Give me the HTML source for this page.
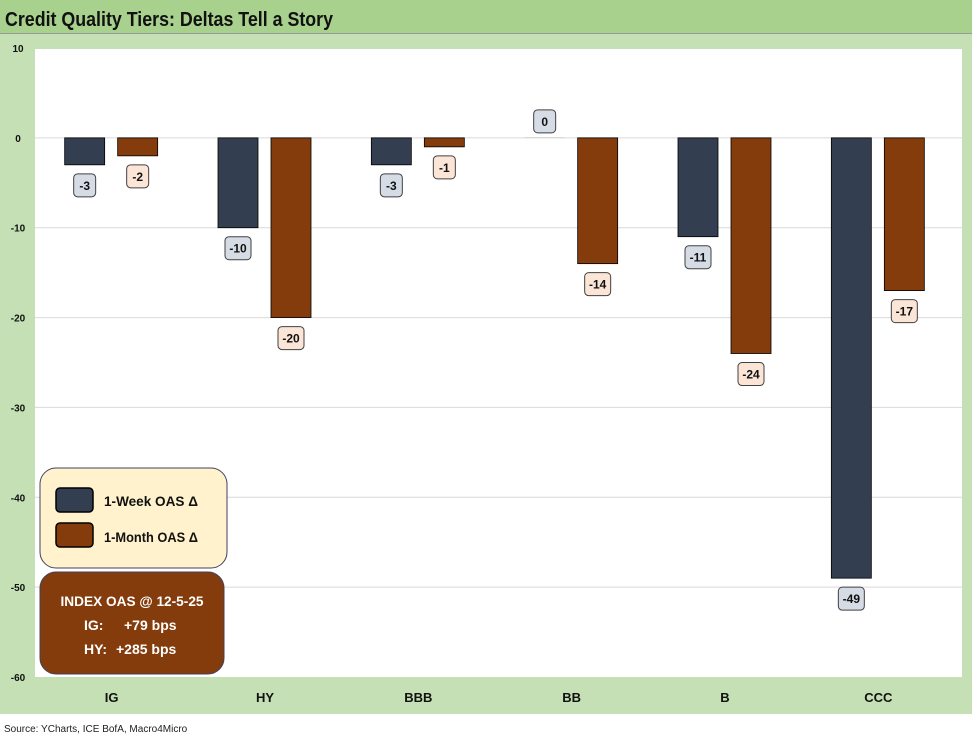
<!DOCTYPE html>
<html><head><meta charset="utf-8"><style>
body{margin:0;width:972px;height:737px;background:#fff;font-family:"Liberation Sans",Arial,sans-serif;overflow:hidden}
</style></head><body>
<svg width="972" height="737" style="position:absolute;left:0;top:0">
<rect x="0" y="0" width="972" height="714" fill="#c5e0b4"/>
<rect x="0" y="0" width="972" height="33" fill="#a9d18e"/>
<line x1="0" y1="33.5" x2="972" y2="33.5" stroke="#999"/>
<text x="5" y="26" font-size="20" font-weight="bold" fill="#111" textLength="328" lengthAdjust="spacingAndGlyphs">Credit Quality Tiers: Deltas Tell a Story</text>
<rect x="35" y="49" width="927" height="628" fill="#fff"/>
<g id="grid"></g><g id="bars"></g>
<rect x="40" y="468" width="187" height="100" rx="16" fill="#fff2cc" stroke="#404060"/>
<rect x="56" y="488" width="37" height="24" rx="4" fill="#333f50" stroke="#000" stroke-width="1.5"/>
<text x="104" y="506" font-size="14" font-weight="bold" fill="#111" textLength="94" lengthAdjust="spacingAndGlyphs">1-Week OAS Δ</text>
<rect x="56" y="523" width="37" height="24" rx="4" fill="#843c0c" stroke="#000" stroke-width="1.5"/>
<text x="104" y="542" font-size="14" font-weight="bold" fill="#111" textLength="94" lengthAdjust="spacingAndGlyphs">1-Month OAS Δ</text>
<rect x="40" y="572" width="184" height="102" rx="16" fill="#843c0c" stroke="#404060"/>
<text x="132" y="606" font-size="14" font-weight="bold" fill="#fff" text-anchor="middle" textLength="143" lengthAdjust="spacingAndGlyphs">INDEX OAS @ 12-5-25</text>
<text x="84" y="630" font-size="14" font-weight="bold" fill="#fff">IG:</text>
<text x="124" y="630" font-size="14" font-weight="bold" fill="#fff">+79 bps</text>
<text x="84" y="654" font-size="14" font-weight="bold" fill="#fff">HY:</text>
<text x="116" y="654" font-size="14" font-weight="bold" fill="#fff">+285 bps</text>
<text x="4" y="732" font-size="10" fill="#222">Source: YCharts, ICE BofA, Macro4Micro</text>
</svg>
<script>
const categories=["IG","HY","BBB","BB","B","CCC"];
const weekValues=[-3,-10,-3,0,-11,-49];
const monthValues=[-2,-20,-1,-14,-24,-17];
const yTicks=[10,0,-10,-20,-30,-40,-50,-60];
const NS="http://www.w3.org/2000/svg";
const plotL=35,plotW=927,catW=920,yMax=10,yMin=-60,yTop=48,yBot=677;
function y(v){return yTop+(yMax-v)*(yBot-yTop)/(yMax-yMin);}
function xc(i){return plotL+(i+0.5)*catW/categories.length;}
function mk(tag,attrs,parent){const e=document.createElementNS(NS,tag);for(const k in attrs)e.setAttribute(k,attrs[k]);parent.appendChild(e);return e;}
const grid=document.getElementById('grid'),bars=document.getElementById('bars');
yTicks.forEach(t=>{
  if(t>yMin&&t<yMax){const l=mk('line',{x1:plotL,x2:plotL+plotW,y1:y(t),y2:y(t),stroke:'#d9d9d9'},grid);
  
  }
  const tx=mk('text',{x:18,y:y(t)+4,'font-size':10,'font-weight':'bold','text-anchor':'middle',fill:'#111'},grid);
  tx.textContent=t;
  
  
});
categories.forEach((c,i)=>{
  const t=mk('text',{x:xc(i),y:702,'font-size':13,'font-weight':'bold','text-anchor':'middle',fill:'#111'},grid);
  t.textContent=c;
  
  
});
function drawBar(v,cx,fill,lblFill,name){
  const y0=y(0),y1=y(v),w=40;
  const r=mk('rect',{x:cx-w/2,y:Math.min(y0,y1),width:w,height:Math.max(Math.abs(y1-y0),0.1),fill:fill,stroke:v===0?'none':'#000','stroke-width':0.8},bars);
  
  
  const ly=v<0?y1+9:y1-28;
  const lw=String(v).length>2?26:22;
  const b=mk('rect',{x:cx-lw/2,y:ly,width:lw,height:23,rx:4,fill:lblFill,stroke:'#404040','stroke-width':1},bars);
  
  
  const t=mk('text',{x:cx,y:ly+16,'font-size':12,'font-weight':'bold','text-anchor':'middle',fill:'#111'},bars);
  t.textContent=v;
  
  
}
categories.forEach((c,i)=>{
  drawBar(weekValues[i],xc(i)-27,'#333f50','#d6dce5','bar-week-'+c.toLowerCase());
  drawBar(monthValues[i],xc(i)+26,'#843c0c','#fbe5d6','bar-month-'+c.toLowerCase());
});
</script>
</body></html>
